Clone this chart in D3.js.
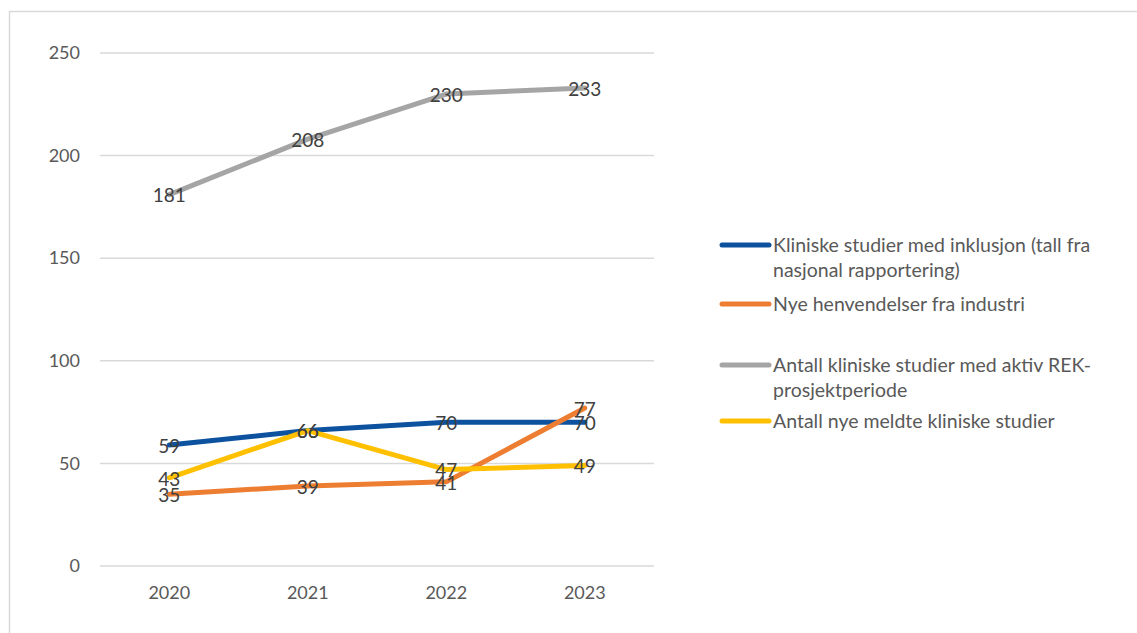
<!DOCTYPE html>
<html>
<head>
<meta charset="utf-8">
<script src="https://cdn.jsdelivr.net/npm/d3@7"></script>
<style>
  html, body { margin: 0; padding: 0; background: #fff; }
  svg { display: block; font-family: Lato, "Open Sans", sans-serif; }
</style>
</head>
<body>
<svg id="chart" width="1137" height="633"></svg>
<script>
// Years on the category axis
const years = ["2020", "2021", "2022", "2023"];

// Series values per year
const klinInklusjon = [59, 66, 70, 70];
const henvendelserIndustri = [35, 39, 41, 77];
const aktivRek = [181, 208, 230, 233];
const nyeMeldte = [43, 66, 47, 49];

// Series names as shown in the legend (lines split for wrapping)
const seriesNames = [
  ["Kliniske studier med inklusjon (tall fra", "nasjonal rapportering)"],
  ["Nye henvendelser fra industri"],
  ["Antall kliniske studier med aktiv REK-", "prosjektperiode"],
  ["Antall nye meldte kliniske studier"]
];
const seriesColors = ["#0C529E", "#ED7D31", "#A5A5A5", "#FFC000"];

// Y-axis ticks
const yTicks = [0, 50, 100, 150, 200, 250];

const series = [klinInklusjon, henvendelserIndustri, aktivRek, nyeMeldte];

const svg = d3.select("#chart");

// Chart-area border
svg.append("rect")
  .attr("x", 9.5).attr("y", 11.5)
  .attr("width", 1140).attr("height", 640)
  .attr("fill", "none").attr("stroke", "#d9d9d9").attr("stroke-width", 1.5);

const plot = { left: 100, right: 654, top: 53, bottom: 566 };

const x = d3.scaleBand().domain(years).range([plot.left, plot.right]);
const y = d3.scaleLinear().domain([0, 250]).range([plot.bottom, plot.top]);

// Gridlines
svg.append("g").selectAll("line").data(yTicks).join("line")
  .attr("x1", plot.left).attr("x2", plot.right)
  .attr("y1", d => y(d)).attr("y2", d => y(d))
  .attr("stroke", "#d9d9d9").attr("stroke-width", 1.5);

// Y axis labels
const yAxis = d3.axisLeft(y).tickValues(yTicks).tickSize(0).tickPadding(0);
const yg = svg.append("g").attr("transform", `translate(${plot.left - 20},0)`).call(yAxis);
yg.select(".domain").remove();
yg.selectAll("text").attr("fill", "#595959").style("font-size", "18px")
  .style("font-family", "Lato, 'Open Sans', sans-serif");

// X axis labels
const xAxis = d3.axisBottom(x).tickSize(0).tickPadding(0);
const xg = svg.append("g").attr("transform", `translate(0,${plot.bottom + 20})`).call(xAxis);
xg.select(".domain").remove();
xg.selectAll("text").attr("fill", "#595959").style("font-size", "18px")
  .style("font-family", "Lato, 'Open Sans', sans-serif");

const cx = d => x(d) + x.bandwidth() / 2;
const line = d3.line().x((d, i) => cx(years[i])).y(d => y(d));

// Lines
series.forEach((vals, si) => {
  svg.append("path")
    .datum(vals)
    .attr("d", line)
    .attr("fill", "none")
    .attr("stroke", seriesColors[si])
    .attr("stroke-width", 5)
    .attr("stroke-linejoin", "round")
    .attr("stroke-linecap", "round");
});

// Data labels, centred on each point
series.forEach((vals, si) => {
  svg.append("g").selectAll("text").data(vals).join("text")
    .attr("x", (d, i) => cx(years[i]))
    .attr("y", d => y(d) + 1)
    .attr("dy", "0.36em")
    .attr("text-anchor", "middle")
    .attr("fill", "#404040")
    .style("font-size", "19px")
    .text(d => d);
});

// Legend
const legendRows = [245, 304, 365, 421];
const lg = svg.append("g");
seriesNames.forEach((lines, i) => {
  const ly = legendRows[i];
  lg.append("line")
    .attr("x1", 722).attr("x2", 769)
    .attr("y1", ly).attr("y2", ly)
    .attr("stroke", seriesColors[i]).attr("stroke-width", 5)
    .attr("stroke-linecap", "round");
  const t = lg.append("text")
    .attr("x", 773).attr("y", ly)
    .attr("fill", "#595959")
    .style("font-size", "19.5px");
  lines.forEach((s, j) => {
    t.append("tspan").attr("x", 773).attr("dy", j === 0 ? "0.36em" : "25px").text(s);
  });
});
</script>
</body>
</html>
